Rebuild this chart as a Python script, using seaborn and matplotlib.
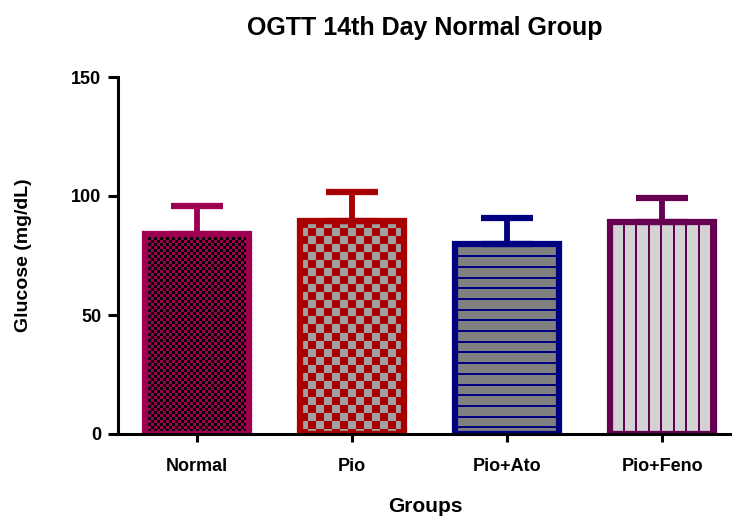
import numpy as np
import pandas as pd
import seaborn as sns
import matplotlib.pyplot as plt
from matplotlib.colors import to_rgb

groups = ["Normal", "Pio", "Pio+Ato", "Pio+Feno"]
means = [84.0, 89.5, 79.8, 89.1]
sds = [11.8, 12.2, 11.0, 10.1]

edge_colors = ["#9E0050", "#A80000", "#000080", "#660050"]
# texture: (kind, color a, color b, cell / spacing px)
textures = [
    ("checker", "#000000", "#9E0050", 3),
    ("checker", "#A80000", "#A0A0A0", 8),
    ("hlines", "#808080", "#000080", 10.7),
    ("vlines", "#D3D3D3", "#660050", 12.5),
]

df = pd.DataFrame({"Group": groups, "Glucose": means})

sns.set_style("ticks")
plt.rcParams["font.family"] = ["Liberation Sans", "DejaVu Sans"]
plt.rcParams["font.weight"] = "bold"
for key in ["text.color", "axes.labelcolor", "xtick.color", "ytick.color", "axes.edgecolor"]:
    plt.rcParams[key] = "black"

fig = plt.figure(figsize=(7.32, 5.16), dpi=100)
ax = fig.add_axes([118 / 732, 1 - 434 / 516, 1 - 118 / 732, 357 / 516])

sns.barplot(data=df, x="Group", y="Glucose", width=0.67, errorbar=None,
            color="white", ax=ax, zorder=3)
ax.set_xlim(-0.51, 3.45)
ax.set_ylim(0, 150)


def make_texture(kind, ca, cb, step, w, h):
    a = np.array(to_rgb(ca))
    b = np.array(to_rgb(cb))
    yy, xx = np.mgrid[0:h, 0:w]
    if kind == "checker":
        mask = ((xx // step + yy // step) % 2) == 0
    elif kind == "hlines":
        mask = (yy % step) >= 2
    else:
        mask = (xx % step) >= 2
    return np.where(mask[..., None], a, b)


for patch, ec, tex in zip(ax.patches, edge_colors, textures):
    x0, y0 = patch.get_x(), patch.get_y()
    x1, y1 = x0 + patch.get_width(), y0 + patch.get_height()
    (px0, py0), (px1, py1) = ax.transData.transform([(x0, y0), (x1, y1)])
    w, h = max(int(round(px1 - px0)), 1), max(int(round(py1 - py0)), 1)
    img = make_texture(*tex, w, h)
    ax.imshow(img, extent=[x0, x1, y0, y1], aspect="auto", origin="upper",
              interpolation="nearest", zorder=2)
    patch.set_facecolor("none")
    patch.set_edgecolor(ec)
    patch.set_linewidth(4.5)
    patch.set_zorder(3)

for i, (m, s, c) in enumerate(zip(means, sds, edge_colors)):
    ax.errorbar(i, m, yerr=[[0], [s]], fmt="none", ecolor=c, elinewidth=4.2,
                capsize=18.7, capthick=4.5, zorder=4)

ax.set_xlim(-0.51, 3.45)
ax.set_ylim(0, 150)
ax.set_yticks([0, 50, 100, 150])

sns.despine(ax=ax)
for sp in ["left", "bottom"]:
    ax.spines[sp].set_linewidth(2.2)
    ax.spines[sp].set_color("black")
    ax.spines[sp].set_zorder(5)
ax.tick_params(axis="y", length=7, width=2.2, labelsize=13, pad=5, colors="black")
ax.tick_params(axis="x", length=6, width=2.2, labelsize=13, pad=11, colors="black")
for lab in ax.get_xticklabels() + ax.get_yticklabels():
    lab.set_fontweight("bold")

ax.set_xlabel("Groups", fontsize=15, fontweight="bold", labelpad=16)
ax.set_ylabel("Glucose (mg/dL)", fontsize=14, fontweight="bold", labelpad=28)
ax.set_title("OGTT 14th Day Normal Group", fontsize=18, fontweight="bold", pad=30)

fig.savefig("out.png", dpi=100)
